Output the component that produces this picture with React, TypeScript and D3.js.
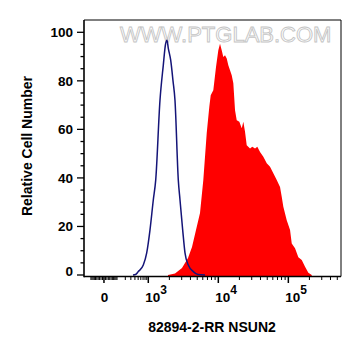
import React from 'react';
import * as d3 from 'd3';

// Control (isotype) histogram: fluorescence value, relative count
const BLUE_X = [349, 430, 505, 712, 898, 1057, 1179, 1276, 1469, 1637, 1761, 1850, 1931, 2089, 2254, 2405, 2683, 2838, 3100, 3343, 3727, 4394, 5128, 6458];
const BLUE_Y = [0, 0.3, 1.4, 4.1, 9.1, 18.5, 30.9, 39.1, 72, 86.4, 95, 96.7, 93.4, 88.5, 80, 72, 39.1, 30.9, 18.5, 9.1, 4.1, 1.4, 0.2, 0];

// NSUN2 stained histogram
const RED_X = [1911, 2407, 3030, 3691, 4210, 4801, 5478, 6107, 6829, 7438, 7788, 8483, 9270, 10000, 10576, 11183, 11788, 12463, 13183, 13897, 14695, 15539, 16383, 17326, 18322, 19953, 21604, 22763, 24070, 25450, 28379, 30600, 33440, 36066, 39420, 43950, 49140, 54770, 61050, 68300, 76100, 80480, 84830, 94870, 105800, 111830, 124630, 138950, 155400, 173300, 193070, 215900];
const RED_Y = [0, 0.6, 2.9, 7.0, 11.5, 18.5, 25.5, 39.1, 58.4, 69.3, 74.1, 76.1, 85.7, 92.6, 95.3, 92.6, 89.8, 90.5, 89.2, 86.4, 84.4, 82.3, 79.0, 67.9, 63.8, 63.1, 60.5, 63.1, 59.0, 53.5, 52.1, 52.8, 52.1, 52.8, 50.7, 48.7, 46.0, 44.6, 41.9, 39.1, 36.3, 32.2, 28.1, 22.6, 18.5, 13.0, 11.0, 7.3, 6.2, 3.4, 0.9, 0];

const Y_TICKS = [0, 20, 40, 60, 80, 100];
const Y_MINOR = d3.range(0, 101, 5);
const X_MAJOR = [0, 1e3, 1e4, 1e5];
const X_MAJOR_EXP = ['', '3', '4', '5'];
const X_MIN = -180;
const X_MAX = 565000;
const X_LABEL = '82894-2-RR NSUN2';
const Y_LABEL = 'Relative Cell Number';
const WATERMARK = 'WWW.PTGLAB.COM';

const W = 361, H = 356;
const L = 84, R = 341, T = 20, B = 276.5;

const LIN = 1000, C = 100, K0 = 0.633;
const S = K0 / Math.asinh(LIN / C);
function tf(v: number): number {
  const a = Math.abs(v);
  if (a <= LIN) return S * Math.asinh(v / C);
  return Math.sign(v) * (K0 + Math.log10(a / LIN));
}

function buildMinor(): number[] {
  const out: number[] = [];
  const cands: number[] = [];
  for (let d = 10; d <= 1e5; d *= 10) for (let m = 1; m <= 9; m++) cands.push(m * d);
  cands.forEach(v => {
    if ([1e3, 1e4, 1e5].includes(v)) return;
    if (v <= X_MAX) out.push(v);
    if (-v >= X_MIN && v < 1000) out.push(-v);
  });
  return out;
}
const X_MINOR = buildMinor();

export default function App() {
  const x = d3.scaleLinear().domain([tf(X_MIN), tf(X_MAX)]).range([L, R]);
  const y = d3.scaleLinear().domain([0, 100]).range([275, 32.3]);
  const fx = (v: number) => x(tf(v));

  const red = RED_X.map((v, i) => [v, RED_Y[i]] as [number, number]);
  const blue = BLUE_X.map((v, i) => [v, BLUE_Y[i]] as [number, number]);

  const area = d3.area<[number, number]>()
    .x(d => fx(d[0]))
    .y0(B)
    .y1(d => y(d[1]))
    .curve(d3.curveLinear);
  const line = d3.line<[number, number]>()
    .x(d => fx(d[0]))
    .y(d => y(d[1]))
    .curve(d3.curveMonotoneX);

  const font = 'Arial, "Liberation Sans", Helvetica, sans-serif';

  return (
    <svg width={W} height={H} style={{ position: 'absolute', left: 0, top: 0, background: '#fff' }} fontFamily={font}>
      <rect x={0} y={0} width={W} height={H} fill="#fff" />
      <text x={120} y={42} fontSize={22} fill="none" stroke="#c4c4c4" strokeWidth={0.9}>{WATERMARK}</text>
      <path d={area(red) || ''} fill="#ff0000" />
      <path d={line(blue) || ''} fill="none" stroke="#141478" strokeWidth={1.5} />
      {/* frame */}
      <line x1={L} x2={R} y1={T} y2={T} stroke="#000" strokeWidth={1} />
      <line x1={R} x2={R} y1={T} y2={B} stroke="#000" strokeWidth={1} />
      <line x1={L} x2={L} y1={T} y2={B + 0.75} stroke="#000" strokeWidth={1.6} />
      <line x1={L} x2={R} y1={B} y2={B} stroke="#000" strokeWidth={1.6} />
      {/* y ticks */}
      {Y_MINOR.map(v => (
        <line key={'ym' + v} x1={L - (v % 20 === 0 ? 7 : 3.5)} x2={L} y1={y(v)} y2={y(v)} stroke="#000" strokeWidth={1.3} />
      ))}
      {Y_TICKS.map(v => (
        <text key={'yt' + v} x={73} y={y(v) + (v === 0 ? -4 : 0)} dy="0.36em" textAnchor="end" fontSize={13.5} fontWeight="bold">{v}</text>
      ))}
      {/* x ticks */}
      {X_MINOR.map((v, i) => (
        <line key={'xm' + i} x1={fx(v)} x2={fx(v)} y1={B} y2={B + 3.5} stroke="#000" strokeWidth={1} />
      ))}
      {X_MAJOR.map(v => (
        <line key={'xM' + v} x1={fx(v)} x2={fx(v)} y1={B} y2={B + 6.5} stroke="#000" strokeWidth={1.5} />
      ))}
      {X_MAJOR.map((v, i) => (
        i === 0 ? (
          <text key={'xl' + v} x={fx(v) + 0.5} y={302} textAnchor="middle" fontSize={13.5} fontWeight="bold">0</text>
        ) : (
          <text key={'xl' + v} x={fx(v) - 3} y={302} textAnchor="start" fontSize={13.5} fontWeight="bold">
            10<tspan fontSize={12} dy={-8.5}>{X_MAJOR_EXP[i]}</tspan>
          </text>
        )
      ))}
      <text x={212} y={332} textAnchor="middle" fontSize={14} fontWeight="bold">{X_LABEL}</text>
      <text transform="translate(32,146) rotate(-90)" textAnchor="middle" fontSize={14} fontWeight="bold">{Y_LABEL}</text>
    </svg>
  );
}
